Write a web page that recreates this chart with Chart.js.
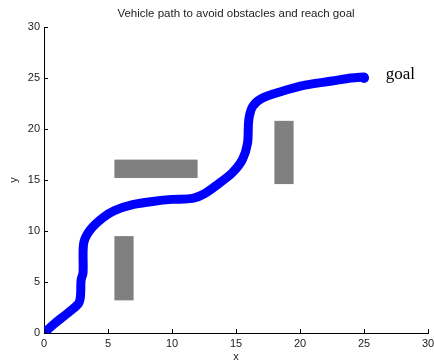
<!DOCTYPE html>
<html>
<head>
<meta charset="utf-8">
<script src="https://cdn.jsdelivr.net/npm/chart.js@4/dist/chart.umd.min.js"></script>
<style>
  html, body { margin: 0; padding: 0; background: #fff; }
  #wrap { width: 434px; height: 364px; position: relative; }
</style>
</head>
<body>
<div id="wrap"><canvas id="grafico"></canvas></div>
<script>
// caminho do veiculo
const pathX = [0, 0.8, 1.8, 2.7, 2.85, 2.9, 3.05, 3.1, 3.6, 4.6, 5.5, 7.0, 8.5, 10.0, 11.6, 12.6, 13.5, 14.7, 15.5, 15.9, 16.0, 16.3, 17.0, 18.6, 20.4, 22.5, 24.0, 25.0];
const pathY = [0, 0.9, 1.9, 2.9, 3.6, 5.2, 5.9, 8.8, 10.1, 11.3, 12.0, 12.6, 12.9, 13.1, 13.2, 13.7, 14.5, 15.7, 17.0, 18.6, 20.9, 22.2, 23.0, 23.7, 24.3, 24.7, 25.0, 25.1];

// obstaculos: [x1, x2, y1, y2]
const obstacles = [
    [5.5, 7.0, 3.2, 9.5],
    [5.5, 12.0, 15.2, 17.0],
    [18.0, 19.5, 14.6, 20.8]
];

const goal = { x: 25, y: 25, label: 'goal', labelX: 26.7, labelY: 25.3 };
const tickValues = [0, 5, 10, 15, 20, 25, 30];
const titulo = 'Vehicle path to avoid obstacles and reach goal';

const corTexto = '#222';
const fonte = '"Liberation Sans", Arial, sans-serif';

const pathData = pathX.map((x, i) => ({ x: x, y: pathY[i] }));

// desenha obstaculos, eixos com ticks para dentro, titulos
const extras = {
    id: 'extras',
    beforeDatasetsDraw(chart) {
        const { ctx, scales: { x, y } } = chart;
        ctx.save();
        ctx.fillStyle = '#808080';
        obstacles.forEach(o => {
            const px1 = x.getPixelForValue(o[0]);
            const px2 = x.getPixelForValue(o[1]);
            const py1 = y.getPixelForValue(o[3]);
            const py2 = y.getPixelForValue(o[2]);
            ctx.fillRect(px1, py1, px2 - px1, py2 - py1);
        });
        ctx.restore();
    },
    afterDraw(chart) {
        const { ctx, scales: { x, y }, chartArea } = chart;
        ctx.save();
        ctx.strokeStyle = '#000';
        ctx.lineWidth = 1;
        ctx.beginPath();
        tickValues.forEach(v => {
            const px = Math.round(x.getPixelForValue(v)) + 0.5;
            ctx.moveTo(px, chartArea.bottom);
            ctx.lineTo(px, chartArea.bottom - 4);
            const py = Math.round(y.getPixelForValue(v)) + 0.5;
            ctx.moveTo(chartArea.left, py);
            ctx.lineTo(chartArea.left + 4, py);
        });
        ctx.stroke();

        ctx.fillStyle = corTexto;
        ctx.font = '11.5px ' + fonte;
        ctx.textAlign = 'center';
        ctx.textBaseline = 'middle';
        ctx.fillText(titulo, (chartArea.left + chartArea.right) / 2, 14);
        ctx.font = '11px ' + fonte;
        ctx.fillText('x', (chartArea.left + chartArea.right) / 2, 357);
        ctx.save();
        ctx.translate(14, (chartArea.top + chartArea.bottom) / 2);
        ctx.rotate(-Math.PI / 2);
        ctx.fillText('y', 0, 0);
        ctx.restore();

        ctx.fillStyle = '#000';
        ctx.font = '17px "Liberation Serif", "Times New Roman", serif';
        ctx.textAlign = 'left';
        ctx.fillText(goal.label, x.getPixelForValue(goal.labelX), y.getPixelForValue(goal.labelY));
        ctx.restore();
    }
};

const ctx = document.getElementById('grafico').getContext('2d');
const grafico = new Chart(ctx, {
    type: 'scatter',
    data: {
        datasets: [{
            label: 'path',
            type: 'line',
            data: pathData,
            borderColor: '#0000ff',
            borderWidth: 9,
            borderCapStyle: 'round',
            borderJoinStyle: 'round',
            tension: 0.3,
            pointRadius: 0,
            fill: false
        }, {
            label: 'goal',
            data: [{ x: goal.x, y: goal.y }],
            pointRadius: 4,
            pointBorderWidth: 2,
            pointBorderColor: '#0000ff',
            pointBackgroundColor: '#1a5a3a'
        }]
    },
    options: {
        responsive: true,
        maintainAspectRatio: false,
        animation: false,
        layout: { padding: { top: 27, right: 4, left: 0, bottom: 0 } },
        plugins: {
            legend: { display: false },
            tooltip: { enabled: false }
        },
        scales: {
            x: {
                type: 'linear',
                min: 0,
                max: 30,
                afterBuildTicks: s => { s.ticks = tickValues.map(v => ({ value: v })); },
                afterFit: s => { s.height = 31; s.paddingLeft = 0; s.paddingRight = 0; },
                grid: { display: false, drawTicks: false },
                border: { display: true, color: '#000', width: 1 },
                ticks: { color: corTexto, font: { size: 11, family: fonte }, padding: 4, maxRotation: 0 }
            },
            y: {
                type: 'linear',
                min: 0,
                max: 30,
                afterBuildTicks: s => { s.ticks = tickValues.map(v => ({ value: v })); },
                afterFit: s => { s.width = 44; s.paddingTop = 0; s.paddingBottom = 0; },
                grid: { display: false, drawTicks: false },
                border: { display: true, color: '#000', width: 1 },
                ticks: { color: corTexto, font: { size: 11, family: fonte }, padding: 4 }
            }
        }
    },
    plugins: [extras]
});
</script>
</body>
</html>
